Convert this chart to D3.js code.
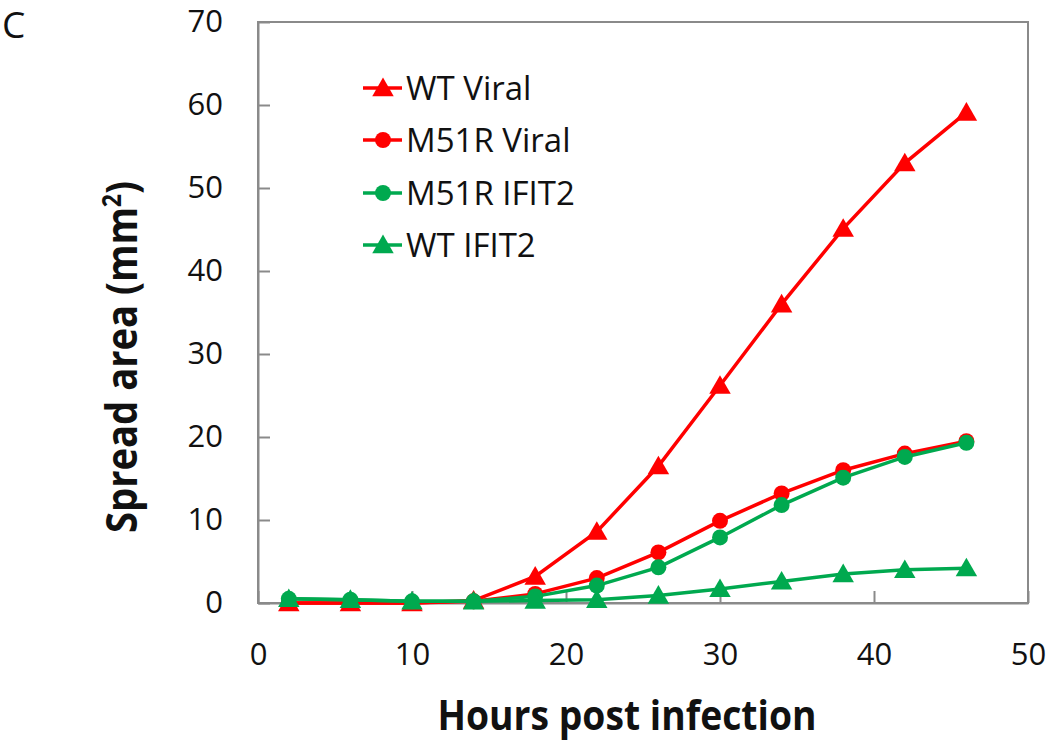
<!DOCTYPE html>
<html><head><meta charset="utf-8">
<script src="https://cdn.jsdelivr.net/npm/d3@7"></script>
<style>body{margin:0;background:#fff}svg{display:block}</style>
</head><body>
<svg id="c" width="1050" height="744"></svg>
<script>
const hours = [2, 6, 10, 14, 18, 22, 26, 30, 34, 38, 42, 46];
const wtViral    = [0, 0, 0, 0.3, 3.2, 8.6, 16.5, 26.2, 36.0, 45.1, 53.0, 59.1];
const m51rViral  = [0, 0, 0, 0.2, 1.1, 3.0, 6.1, 9.9, 13.2, 16.0, 18.0, 19.5];
const m51rIfit2  = [0.5, 0.4, 0.2, 0.2, 0.8, 2.1, 4.3, 7.9, 11.8, 15.1, 17.6, 19.3];
const wtIfit2    = [0.5, 0.4, 0.2, 0.2, 0.3, 0.4, 0.9, 1.7, 2.6, 3.5, 4.0, 4.2];
const seriesNames = ["WT Viral", "M51R Viral", "M51R IFIT2", "WT IFIT2"];
const xTicks = [0, 10, 20, 30, 40, 50];
const yTicks = [0, 10, 20, 30, 40, 50, 60, 70];

const RED = "#ff0000", GREEN = "#00a94f";
const series = [
  {name: seriesNames[0], values: wtViral,   color: RED,   shape: "tri"},
  {name: seriesNames[1], values: m51rViral, color: RED,   shape: "circ"},
  {name: seriesNames[2], values: m51rIfit2, color: GREEN, shape: "circ"},
  {name: seriesNames[3], values: wtIfit2,   color: GREEN, shape: "tri"}
];

const svg = d3.select("#c");
const L = 258, R = 1028, T = 22, B = 603;
const x = d3.scaleLinear().domain([0, 50]).range([L, R]);
const y = d3.scaleLinear().domain([0, 70]).range([B, T]);
const FONT = "'Open Sans', 'Liberation Sans', sans-serif";
const AX = "#8a8a8a";

// frame
svg.append("rect").attr("x", L).attr("y", T).attr("width", R - L).attr("height", B - T)
  .attr("fill", "none").attr("stroke", AX).attr("stroke-width", 2);

// axes with inward ticks
const gx = svg.append("g").attr("transform", `translate(0,${B})`)
  .call(d3.axisBottom(x).tickValues(xTicks).tickSizeInner(-12).tickSizeOuter(0).tickPadding(40));
const gy = svg.append("g").attr("transform", `translate(${L},0)`)
  .call(d3.axisLeft(y).tickValues(yTicks).tickSizeInner(-12).tickSizeOuter(0).tickPadding(35));
[gx, gy].forEach(g => {
  g.select(".domain").attr("stroke", AX).attr("stroke-width", 2);
  g.selectAll(".tick line").attr("stroke", AX).attr("stroke-width", 2);
  g.selectAll(".tick text").attr("font-family", FONT).attr("font-size", 31).attr("fill", "#111");
});

const sym = {
  tri: d3.symbol().type(d3.symbolTriangle).size(200),
  circ: d3.symbol().type(d3.symbolCircle).size(200)
};
const line = d3.line().x((d, i) => x(hours[i])).y(d => y(d));

series.forEach(s => {
  const g = svg.append("g");
  g.append("path").datum(s.values).attr("d", line)
    .attr("fill", "none").attr("stroke", s.color).attr("stroke-width", 3.5);
  g.selectAll("path.m").data(s.values).enter().append("path").attr("class", "m")
    .attr("d", sym[s.shape])
    .attr("transform", (d, i) => `translate(${x(hours[i])},${y(d) + (s.shape === "tri" ? 2 : 0)})`)
    .attr("fill", s.color);
});

// legend
const legY = [88, 140, 193, 245];
series.forEach((s, i) => {
  const g = svg.append("g").attr("transform", `translate(0,${legY[i]})`);
  g.append("line").attr("x1", 363).attr("x2", 402).attr("y1", 0).attr("y2", 0)
    .attr("stroke", s.color).attr("stroke-width", 3.5);
  g.append("path").attr("d", sym[s.shape]).attr("transform", `translate(383,${s.shape === "tri" ? 2 : 0})`).attr("fill", s.color);
  g.append("text").attr("x", 406).attr("y", 0).attr("dy", "0.36em")
    .attr("font-family", FONT).attr("font-size", 33).attr("fill", "#111").text(s.name);
});

// axis titles
svg.append("text").attr("x", 627).attr("y", 730).attr("text-anchor", "middle")
  .attr("font-family", FONT).attr("font-weight", "bold").attr("font-size", 41)
  .attr("textLength", 379).attr("lengthAdjust", "spacingAndGlyphs").attr("fill", "#111")
  .text("Hours post infection");
const yt = svg.append("text").attr("transform", "translate(137,357) rotate(-90)")
  .attr("text-anchor", "middle").attr("font-family", FONT).attr("font-weight", "bold")
  .attr("font-size", 43).attr("fill", "#111")
  .attr("textLength", 352).attr("lengthAdjust", "spacingAndGlyphs");
yt.append("tspan").text("Spread area (mm");
yt.append("tspan").attr("font-size", 26).attr("dy", -16).text("2");
yt.append("tspan").attr("dy", 16).text(")");

// panel letter
svg.append("text").attr("x", 2).attr("y", 38).attr("font-family", FONT).attr("font-size", 37)
  .attr("fill", "#111").text("C");
</script>
</body></html>
